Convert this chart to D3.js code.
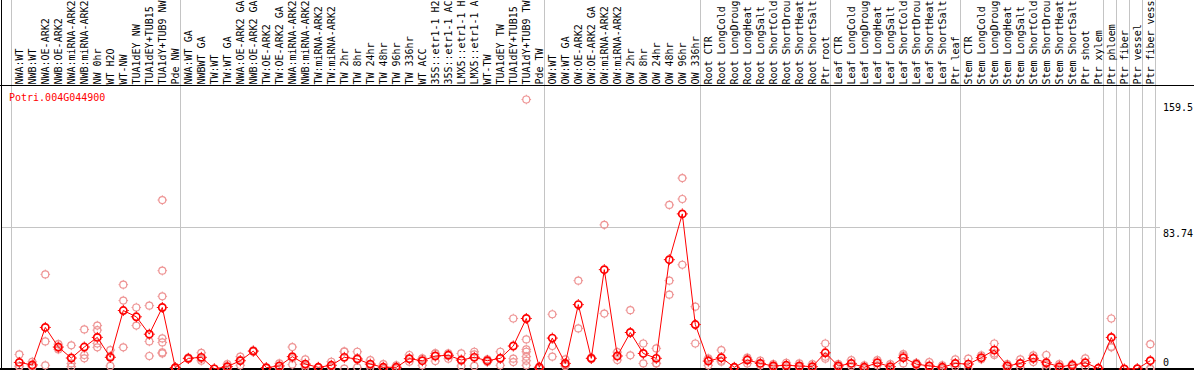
<!DOCTYPE html>
<html>
<head>
<meta charset="utf-8">
<script src="https://cdn.jsdelivr.net/npm/d3@7"></script>
<style>
  html, body { margin: 0; padding: 0; background: #ffffff; }
  svg { display: block; }
  text { font-family: "DejaVu Sans Mono", "Liberation Mono", monospace; font-size: 10px; }
</style>
</head>
<body>
<svg id="chart" width="1194" height="370"></svg>
<script>
const geneName = "Potri.004G044900";

const categories = [
  "NWA:WT", "NWB:WT", "NWA:OE-ARK2", "NWB:OE-ARK2", "NWA:miRNA-ARK2", "NWB:miRNA-ARK2",
  "NW 0hr", "WT H2O", "WT-NW", "TUA1dEY NW", "TUA1dEY+TUB15", "TUA1dY+TUB9 NW", "Pde NW",
  "NWA:WT GA", "NWBWT GA", "TW:WT", "TW:WT GA", "NWA:OE-ARK2 GA", "NWB:OE-ARK2 GA",
  "TW:OE-ARK2", "TW:OE-ARK2 GA", "NWA:miRNA-ARK2", "NWB:miRNA-ARK2", "TW:miRNA-ARK2",
  "TW:miRNA-ARK2", "TW 2hr", "TW 8hr", "TW 24hr", "TW 48hr", "TW 96hr", "TW 336hr",
  "WT ACC", "35S::etr1-1 H2", "35S::etr1-1 AC", "LMX5::etr1-1 H", "LMX5::etr1-1 A",
  "WT-TW", "TUA1dEY TW", "TUA1dEY+TUB15", "TUA1dY+TUB9 TW", "Pde TW",
  "OW:WT", "OW:WT GA", "OW:OE-ARK2", "OW:OE-ARK2 GA", "OW:miRNA-ARK2", "OW:miRNA-ARK2",
  "OW 2hr", "OW 8hr", "OW 24hr", "OW 48hr", "OW 96hr", "OW 336hr",
  "Root CTR", "Root LongCold", "Root LongDroug", "Root LongHeat", "Root LongSalt",
  "Root ShortCold", "Root ShortDrou", "Root ShortHeat", "Root ShortSalt", "Ptr root",
  "Leaf CTR", "Leaf LongCold", "Leaf LongDroug", "Leaf LongHeat", "Leaf LongSalt",
  "Leaf ShortCold", "Leaf ShortDrou", "Leaf ShortHeat", "Leaf ShortSalt", "Ptr leaf",
  "Stem CTR", "Stem LongCold", "Stem LongDroug", "Stem LongHeat", "Stem LongSalt",
  "Stem ShortCold", "Stem ShortDrou", "Stem ShortHeat", "Stem ShortSalt", "Ptr shoot",
  "Ptr xylem", "Ptr phloem", "Ptr fiber", "Ptr vessel", "Ptr fiber vess"
];

const meanValues = [
  3.9, 2.4, 24.6, 13.0, 6.5, 13.0, 18.7, 6.9, 34.6, 30.9, 20.6, 36.4, 0.8,
  6.3, 6.9, 0.1, 1.4, 4.9, 10.6, 0.8, 1.8, 7.3, 2.9, 1.0, 2.2, 6.9, 5.9, 2.9,
  1.0, 1.0, 6.1, 4.9, 7.7, 8.1, 5.3, 6.9, 4.9, 6.3, 13.6, 29.9, 1.0,
  18.3, 3.3, 38.1, 6.3, 58.8, 7.7, 21.6, 9.2, 6.3, 64.7, 91.8, 26.3,
  4.7, 6.7, 1.0, 5.3, 3.3, 1.8, 2.2, 1.8, 1.4, 9.6,
  1.8, 3.3, 1.0, 3.7, 1.4, 6.7, 2.9, 1.8, 1.0, 3.3,
  2.9, 6.7, 11.2, 1.8, 3.3, 6.3, 3.7, 1.4, 2.2, 3.7, 0.4,
  18.7, 0.0, 0.2, 4.9
];

const replicateValues = [
  [8.6, 1.4, 1.8], [4.3, 1.4, 1.4], [56.0, 16.3, 2.2], [14.7, 11.6, 12.6],
  [14.0, 3.3, 1.4], [23.4, 8.3, 6.3], [25.7, 23.0, 15.1, 12.8], [11.2, 1.8, 7.7],
  [49.9, 40.5, 12.8], [36.4, 25.7], [37.5, 16.3, 7.7],
  [100.0, 58.2, 43.0, 18.1, 15.7, 9.8, 9.2], [1.0, 0.4, 1.0],
  [6.3, 6.7, 5.9], [9.6, 4.9, 6.1], [0.2, 0.0], [2.9, 1.4, 0.2], [7.3, 2.2, 5.3],
  [11.0, 10.2], [0.8, 0.4], [3.3, 0.4], [13.0, 2.6, 6.3], [5.7, 1.0, 2.2],
  [1.0, 0.6], [4.3, 1.0, 1.2], [10.2, 0.2, 10.4], [10.2, 1.0, 6.5], [5.3, 1.0, 2.4],
  [2.9, 0.2, 0.2], [2.2, 0.2, 0.6], [8.3, 4.3, 6.1], [6.3, 2.2, 6.1], [9.2, 4.7, 9.2],
  [9.2, 6.1, 8.6], [9.2, 1.8, 4.9], [10.2, 1.8, 8.6], [5.7, 4.1], [10.2, 2.2, 6.3],
  [29.9, 6.1, 4.1], [159.5, 17.5, 11.6, 10.2, 7.3, 4.9, 2.2], [1.4, 0.2],
  [32.4, 13.6, 7.3], [5.7, 1.8, 2.6], [52.3, 24.0], [6.7, 5.9], [85.3, 32.8],
  [10.0, 5.3], [34.8, 8.1], [15.1, 3.3], [12.2, 3.3, 3.4], [97.1, 52.3, 44.0],
  [113.0, 100.6, 61.7], [36.9, 15.1],
  [2.2, 6.3, 5.7], [11.2, 4.3, 4.9], [1.0, 0.6], [6.7, 3.3, 5.9], [4.9, 2.2],
  [2.9, 1.0], [3.7, 1.0], [3.3, 1.0], [2.9, 0.2], [15.1, 6.1, 7.3],
  [2.9, 1.0], [5.3, 1.8], [2.2, 0.2], [5.3, 2.2], [2.9, 0.2], [8.8, 3.3, 7.9],
  [3.7, 2.2], [4.1, 0.2], [2.2, 0.2], [5.7, 1.4],
  [6.1, 0.2], [8.1, 5.7], [15.1, 8.3, 9.2], [2.9, 0.6], [5.7, 1.0], [8.1, 4.1, 6.7],
  [8.3, 0.2, 2.6], [2.9, 0.2], [2.9, 1.0], [6.3, 1.4], [0.4],
  [29.9, 13.2, 12.8], [0.0], [0.2], [14.7, 0.0, 0.2]
];

// indices of columns where a new group begins (plus the end)
const groupBreaks = [0, 13, 41, 53, 63, 73, 84, 85, 86, 87, 88];

const yTickValues = [159.5, 83.74, 0];
const yTickLabels = ["159.5", "83.74", "0"];

const W = 1194, H = 370;
const svg = d3.select("#chart");

const x = d3.scaleBand()
  .domain(d3.range(categories.length))
  .range([12.8, 12.8 + 13 * categories.length])
  .padding(0);
const cx = i => x(i) + x.bandwidth() / 2;
const breakX = k => (k < categories.length ? x(k) : x.range()[1]) - 1.5;

const y = d3.scaleLinear().domain([0, 159.5]).range([369, 99.5]);

const crisp = v => Math.floor(v) + 0.5;

// vertical group gridlines
svg.append("g").selectAll("line").data(groupBreaks).join("line")
  .attr("x1", d => crisp(breakX(d))).attr("x2", d => crisp(breakX(d)))
  .attr("y1", 0).attr("y2", 369)
  .attr("stroke", "#c4c4c4").attr("stroke-width", 1);

// horizontal gridline at middle tick
svg.append("line")
  .attr("x1", 1).attr("x2", 1160)
  .attr("y1", crisp(y(83.74))).attr("y2", crisp(y(83.74)))
  .attr("stroke", "#c4c4c4").attr("stroke-width", 1);

// frame lines
svg.append("line").attr("x1", 1.5).attr("x2", 1.5).attr("y1", 0).attr("y2", 370)
  .attr("stroke", "#000").attr("stroke-width", 1);
svg.append("line").attr("x1", 0).attr("x2", W).attr("y1", 85.5).attr("y2", 85.5)
  .attr("stroke", "#000").attr("stroke-width", 1);
svg.append("line").attr("x1", 0).attr("x2", W).attr("y1", 369).attr("y2", 369)
  .attr("stroke", "#000").attr("stroke-width", 2);

// column labels (rotated)
svg.append("g").selectAll("text").data(categories).join("text")
  .attr("transform", (d, i) => `translate(${cx(i) + 3.8},84.5) rotate(-90)`)
  .attr("text-anchor", "start")
  .attr("fill", "#000")
  .attr("textLength", d => d.length > 13 ? 84 : null)
  .attr("lengthAdjust", "spacing")
  .text(d => d);

// gene title
svg.append("text").attr("x", 9).attr("y", 101).attr("fill", "#ff0000").text(geneName);

// right axis labels
svg.append("g").selectAll("text").data(yTickValues).join("text")
  .attr("x", 1163)
  .attr("y", d => Math.max(111, Math.min(366, y(d) + 9)))
  .attr("fill", "#000")
  .text((d, i) => yTickLabels[i]);

function markerPath(px, py, r) {
  const t = 1.3;
  return `M${px},${py - r - t}v${t}M${px},${py + r}v${t}M${px - r - t},${py}h${t}M${px + r},${py}h${t}`;
}

// replicate points
const reps = [];
replicateValues.forEach((arr, i) => arr.forEach(v => reps.push({ i, v })));
const repG = svg.append("g");
repG.selectAll("circle").data(reps).join("circle")
  .attr("cx", d => cx(d.i)).attr("cy", d => y(d.v)).attr("r", 3.5)
  .attr("fill", "none").attr("stroke", "#ee9494").attr("stroke-width", 1.2);
repG.selectAll("path").data(reps).join("path")
  .attr("d", d => markerPath(cx(d.i), y(d.v), 3.5))
  .attr("stroke", "#ee9494").attr("stroke-width", 1);

// mean line
const line = d3.line().x((d, i) => cx(i)).y(d => y(d));
svg.append("path").datum(meanValues)
  .attr("d", line).attr("fill", "none")
  .attr("stroke", "#ff0000").attr("stroke-width", 1);

// mean points
const meanG = svg.append("g");
meanG.selectAll("circle").data(meanValues).join("circle")
  .attr("cx", (d, i) => cx(i)).attr("cy", d => y(d)).attr("r", 3.6)
  .attr("fill", "none").attr("stroke", "#ff0000").attr("stroke-width", 1.7);
meanG.selectAll("path").data(meanValues).join("path")
  .attr("d", (d, i) => markerPath(cx(i), y(d), 4.2))
  .attr("stroke", "#ff0000").attr("stroke-width", 1);
</script>
</body>
</html>
